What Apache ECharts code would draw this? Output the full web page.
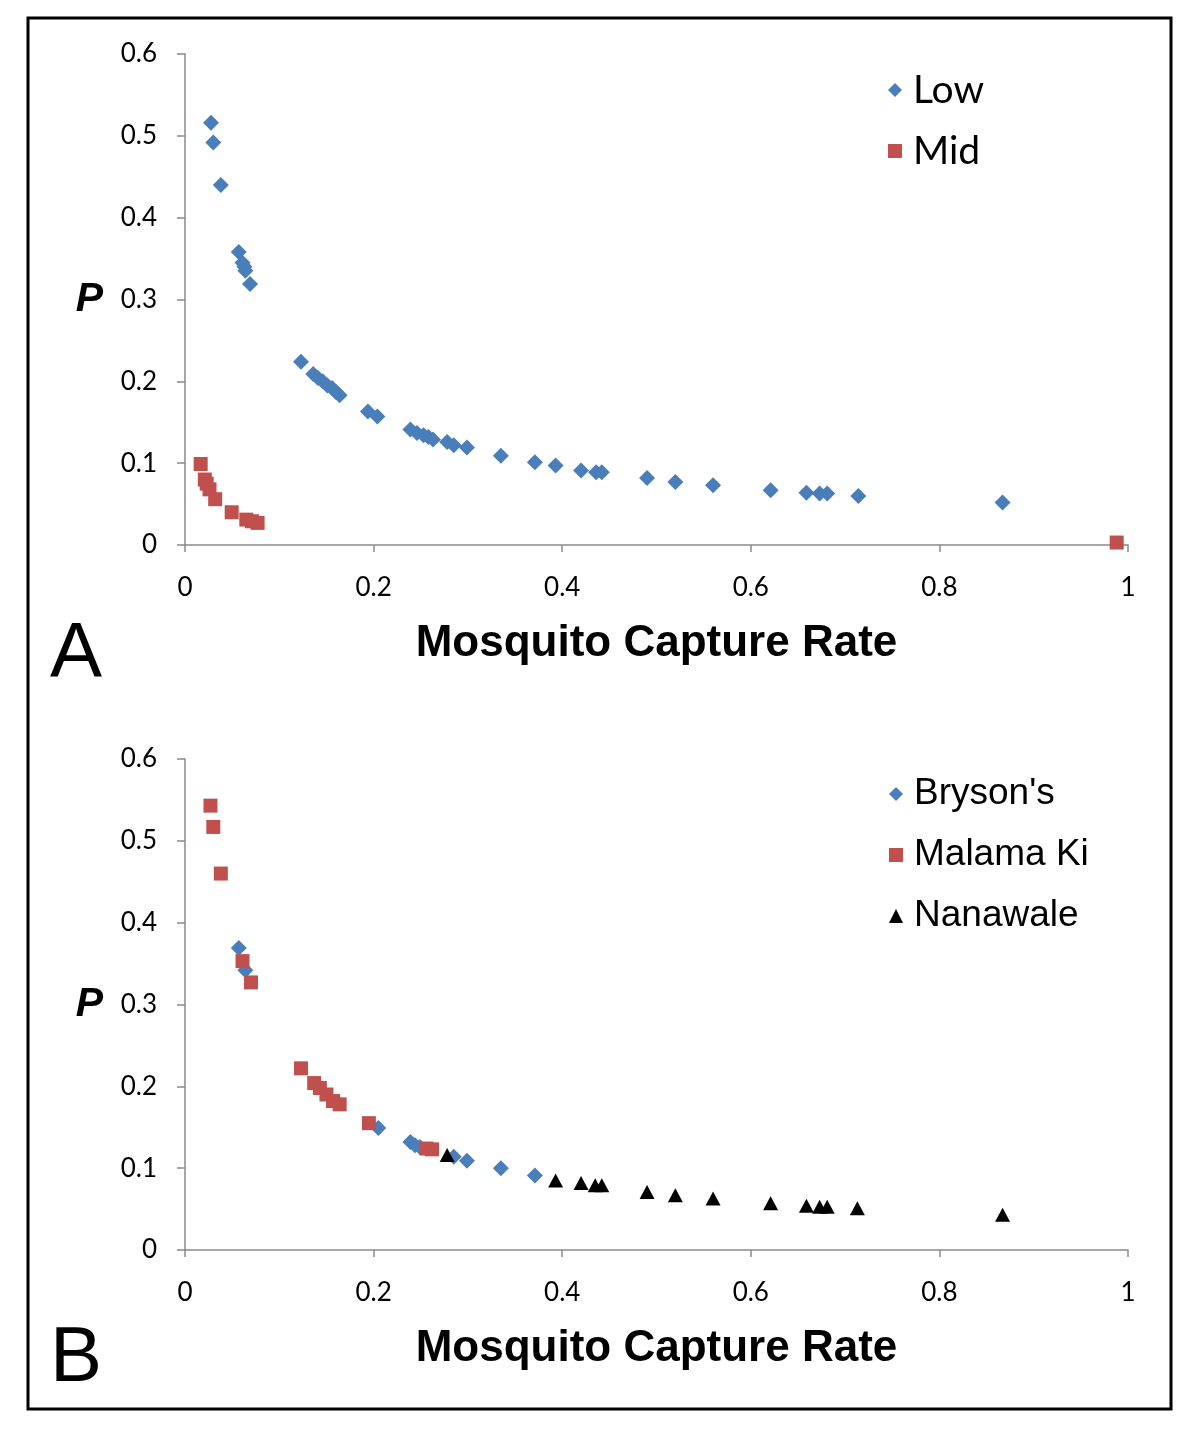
<!DOCTYPE html>
<html>
<head>
<meta charset="utf-8">
<script src="https://cdn.jsdelivr.net/npm/echarts@6/dist/echarts.min.js"></script>
<style>
html,body{margin:0;padding:0;background:#fff;}
#chart{width:1200px;height:1429px;}
</style>
</head>
<body>
<div id="chart"></div>
<script>
// ---- Data ----
const xTicks = [0, 0.2, 0.4, 0.6, 0.8, 1];
const yTicks = [0, 0.1, 0.2, 0.3, 0.4, 0.5, 0.6];

// Panel A
const lowData = [
  [0.0276,0.516],[0.030,0.492],[0.038,0.440],[0.057,0.358],[0.061,0.345],[0.063,0.340],[0.064,0.335],[0.069,0.319],
  [0.123,0.224],[0.136,0.209],[0.141,0.204],[0.146,0.200],[0.151,0.195],[0.156,0.192],[0.160,0.187],[0.164,0.183],
  [0.194,0.163],[0.204,0.157],[0.239,0.141],[0.246,0.137],[0.253,0.134],[0.258,0.132],[0.263,0.129],[0.278,0.126],
  [0.285,0.122],[0.299,0.119],[0.335,0.109],[0.371,0.101],[0.393,0.097],[0.420,0.091],[0.436,0.089],[0.442,0.089],
  [0.490,0.082],[0.520,0.077],[0.560,0.073],[0.621,0.067],[0.659,0.064],[0.673,0.063],[0.681,0.063],[0.714,0.060],
  [0.867,0.052]
];
const midData = [
  [0.0166,0.099],[0.021,0.080],[0.023,0.075],[0.026,0.068],[0.032,0.056],[0.0495,0.040],[0.065,0.031],[0.071,0.029],
  [0.077,0.027],[0.988,0.003]
];

// Panel B
const brysonData = [
  [0.057,0.369],[0.064,0.342],[0.205,0.149],[0.239,0.132],[0.244,0.128],[0.249,0.126],[0.285,0.114],[0.299,0.109],
  [0.335,0.100],[0.371,0.091]
];
const malamaData = [
  [0.027,0.543],[0.030,0.517],[0.038,0.460],[0.061,0.353],[0.070,0.327],[0.123,0.222],[0.137,0.204],[0.143,0.198],
  [0.150,0.190],[0.157,0.182],[0.164,0.178],[0.195,0.155],[0.256,0.124],[0.262,0.123]
];
const nanawaleData = [
  [0.278,0.116],[0.393,0.085],[0.420,0.082],[0.435,0.079],[0.442,0.079],[0.490,0.071],[0.520,0.067],[0.560,0.063],
  [0.621,0.057],[0.659,0.054],[0.673,0.053],[0.681,0.053],[0.713,0.051],[0.867,0.043]
];

const BLUE = '#4a7ebb', RED = '#c0504d', BLACK = '#000000';
const tickFont = 'Lato, "Open Sans", sans-serif';
const axisGray = '#8a8a8a';

function xAxisCfg(gridIndex) {
  return {
    type: 'value', gridIndex, min: xTicks[0], max: xTicks[xTicks.length-1],
    interval: xTicks[1]-xTicks[0],
    name: 'Mosquito Capture Rate', nameLocation: 'middle', nameGap: 77,
    nameTextStyle: {fontFamily: '"Liberation Sans", Arial, sans-serif', fontWeight: 'bold', fontSize: 44, color: '#000'},
    axisLine: {show: true, lineStyle: {color: axisGray, width: 1.5}},
    axisTick: {show: true, length: 7, lineStyle: {color: axisGray, width: 1.5}},
    axisLabel: {fontFamily: tickFont, fontSize: 26, color: '#000', margin: 30},
    splitLine: {show: false}
  };
}
function yAxisCfg(gridIndex) {
  return {
    type: 'value', gridIndex, min: yTicks[0], max: yTicks[yTicks.length-1],
    interval: yTicks[1]-yTicks[0],
    name: 'P', nameLocation: 'middle', nameRotate: 0, nameGap: 82,
    nameTextStyle: {fontFamily: '"Liberation Sans", Arial, sans-serif', fontWeight: 'bold', fontStyle: 'italic', fontSize: 41, color: '#000'},
    axisLine: {show: true, onZero: false, lineStyle: {color: axisGray, width: 1.5}},
    axisTick: {show: true, length: 8, lineStyle: {color: axisGray, width: 1.5}},
    axisLabel: {fontFamily: tickFont, fontSize: 26, color: '#000', margin: 28},
    splitLine: {show: false}
  };
}

const chart = echarts.init(document.getElementById('chart'), null, {renderer: 'canvas'});
chart.setOption({
  backgroundColor: '#fff',
  animation: false,
  grid: [
    {left: 185, top: 54, width: 943, height: 491},
    {left: 185, top: 759, width: 943, height: 491}
  ],
  xAxis: [xAxisCfg(0), xAxisCfg(1)],
  yAxis: [yAxisCfg(0), yAxisCfg(1)],
  legend: [
    {
      data: ['Low', 'Mid'], orient: 'vertical', left: 883, top: 65,
      itemWidth: 14, itemHeight: 14, itemGap: 21,
      textStyle: {fontFamily: tickFont, fontSize: 39, color: '#000', lineHeight: 40, padding: [0,0,0,6]}
    },
    {
      data: ["Bryson's", 'Malama Ki', 'Nanawale'], orient: 'vertical', left: 884, top: 769,
      itemWidth: 14, itemHeight: 14, itemGap: 21,
      textStyle: {fontFamily: '"Liberation Sans", Arial, sans-serif', fontSize: 37, color: '#000', lineHeight: 40, padding: [0,0,0,6]}
    }
  ],
  series: [
    {name: 'Low', type: 'scatter', xAxisIndex: 0, yAxisIndex: 0, data: lowData,
     symbol: 'diamond', symbolSize: 16, itemStyle: {color: BLUE, opacity: 1}},
    {name: 'Mid', type: 'scatter', xAxisIndex: 0, yAxisIndex: 0, data: midData,
     symbol: 'rect', symbolSize: 14, itemStyle: {color: RED, opacity: 1}},
    {name: "Bryson's", type: 'scatter', xAxisIndex: 1, yAxisIndex: 1, data: brysonData,
     symbol: 'diamond', symbolSize: 16, itemStyle: {color: BLUE, opacity: 1}},
    {name: 'Malama Ki', type: 'scatter', xAxisIndex: 1, yAxisIndex: 1, data: malamaData,
     symbol: 'rect', symbolSize: 14, itemStyle: {color: RED, opacity: 1}},
    {name: 'Nanawale', type: 'scatter', xAxisIndex: 1, yAxisIndex: 1, data: nanawaleData,
     symbol: 'triangle', symbolSize: [15, 14], itemStyle: {color: BLACK, opacity: 1}}
  ],
  graphic: [
    {type: 'rect', shape: {x: 28, y: 18, width: 1143, height: 1391},
     style: {fill: null, stroke: '#000', lineWidth: 3}, silent: true},
    {type: 'text', left: 50, top: 616,
     style: {text: 'A', fontFamily: '"Liberation Sans", Arial, sans-serif', fontSize: 78, fill: '#000'}},
    {type: 'text', left: 50, top: 1320,
     style: {text: 'B', fontFamily: '"Liberation Sans", Arial, sans-serif', fontSize: 78, fill: '#000'}}
  ]
});
</script>
</body>
</html>
